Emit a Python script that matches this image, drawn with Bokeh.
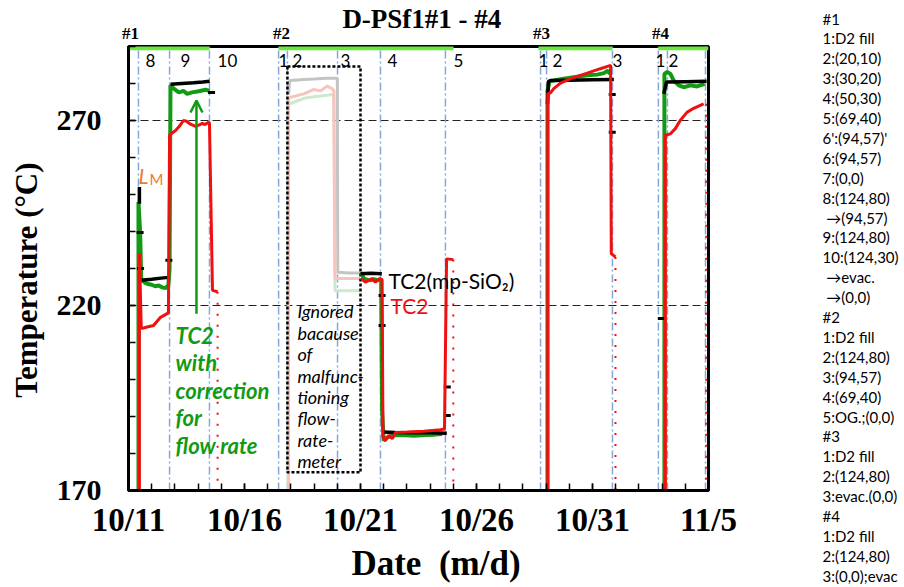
from bokeh.plotting import figure
from bokeh.layouts import row, column
from bokeh.models import FixedTicker, Label, Arrow, OpenHead, Span, Range1d, LinearAxis
from bokeh.embed import file_html
from bokeh.resources import INLINE

nan = float("nan")
NB = "\u00a0"

# x values: day counted from 1 October (10/11 = 11, 11/5 = 36)
x_ticks = [11, 16, 21, 26, 31, 36]
x_tick_labels = ["10/11", "10/16", "10/21", "10/26", "10/31", "11/5"]
x_minor = list(range(11, 37))
y_ticks = [170, 220, 270]
y_minor = list(range(170, 291, 10))

# step-change lines (blue dash-dot) and their labels
step_days = [11.43, 12.77, 14.49, 17.47, 17.85, 20.01, 21.86, 24.66,
             28.76, 29.02, 31.86, 33.84, 34.23, 35.87]
step_label_days = [11.73, 13.24, 14.84, 17.47, 18.07, 20.14, 22.16, 25.01,
                   28.67, 29.28, 31.86, 33.72, 34.28]
step_labels = ["8", "9", "10", "1", "2", "3", "4", "5", "1", "2", "3", "1", "2"]

# run periods (green bars at top) and run names
run_start = [11.0, 17.47, 28.67, 33.84]
run_end = [14.49, 25.01, 31.86, 36.0]
run_names = ["#1", "#2", "#3", "#4"]
run_name_days = [11.09, 17.59, 28.80, 33.93]
title_text = "D-PSf1#1 - #4"

# reference lines
ref_temps = [220, 270]

# TC2 (mp-SiO2) - black
black_x = [11.47, 11.47, nan, 11.56, 12.0, 12.4, 12.74, nan,
           12.81, 13.3, 13.8, 14.2, 14.50, nan,
           21.00, 21.45, 21.92, nan,
           21.97, 22.5, 23.2, 24.0, 24.72, nan,
           29.06, 29.10, 29.19, 30.0, 31.0, 31.92, nan,
           34.07, 34.19, 35.0, 35.92]
black_y = [252.0, 247.5, nan, 226.8, 227.1, 227.4, 227.6, nan,
           279.8, 280.0, 280.2, 280.4, 280.6, nan,
           228.6, 228.7, 228.6, nan,
           185.8, 185.7, 185.6, 185.6, 185.5, nan,
           274.5, 280.5, 280.8, 280.9, 281.0, 281.1, nan,
           277.2, 280.4, 280.5, 280.6]
black_pts_x = [11.50, 11.52, 12.74, 14.58, 21.93, 21.93, 24.74, 24.74, 31.85, 31.85, 33.97]
black_pts_y = [239.7, 230.0, 232.2, 277.6, 222.7, 214.6, 198.0, 190.3, 277.0, 266.8, 216.5]

# TC2 with correction for flow rate - green
green_x = [11.43, 11.43, 11.50, 11.55, 11.70, 11.85, 12.00, 12.15, 12.30, 12.45, 12.60, 12.72,
           12.77, 12.81, 12.95, 13.17, 13.38, 13.53, 13.74, 14.03, 14.32, 14.49, nan,
           21.03, 21.14, 21.30, 21.43, 21.57, 21.71, 21.89, 21.93, 22.00, 22.15, 22.40,
           22.80, 23.30, 23.80, 24.20, 24.52, nan,
           29.06, 29.06, 29.15, 29.33, 29.76, 30.19, 30.77, 31.20, 31.49, 31.66, 31.75, nan,
           34.10, 34.10, 34.22, 34.36, 34.50, 34.72, 34.93, 35.22, 35.51, 35.83]
green_y = [170.0, 248.0, 240.0, 227.0, 226.2, 225.8, 225.6, 225.2, 225.4, 224.9, 224.7, 225.5,
           230.0, 279.5, 278.6, 277.6, 278.0, 277.2, 277.6, 277.9, 278.3, 278.0, nan,
           229.0, 227.3, 226.9, 226.8, 227.1, 226.9, 226.8, 191.6, 183.5, 184.3, 184.9,
           185.0, 184.8, 185.0, 185.1, 185.3, nan,
           170.0, 278.0, 280.6, 280.8, 281.3, 281.7, 282.2, 282.4, 282.8, 283.5, 282.6, nan,
           170.0, 282.6, 283.1, 282.6, 280.8, 279.5, 279.0, 279.5, 279.2, 279.9]

# TC2 - red
red_x = [11.47, 11.47, 11.55, 11.60, 11.80, 12.08, 12.38, 12.72,
         12.77, 12.85, 13.03, 13.20, 13.37, 13.50, 13.67, 13.89, 14.05, 14.19, 14.30, 14.45,
         14.49, 14.62, 14.84, nan,
         21.03, 21.21, 21.36, 21.50, 21.64, 21.83, 21.93, 21.97, 22.07, 22.22, 22.37, 22.51,
         23.01, 23.73, 24.45, 24.62, 24.71, 25.00, nan,
         29.07, 29.07, 29.19, 29.33, 29.62, 30.05, 30.77, 31.34, 31.78, 31.81, 31.99, nan,
         34.14, 34.14, 34.36, 34.57, 34.78, 35.07, 35.36, 35.79]
red_y = [170.0, 234.0, 214.0, 213.8, 214.2, 214.6, 216.8, 218.0,
         266.0, 266.5, 267.3, 268.5, 270.0, 269.8, 269.0, 268.4, 268.8, 269.2, 268.9, 269.5,
         269.3, 224.1, 223.7, nan,
         227.3, 226.3, 226.8, 227.3, 226.3, 227.3, 227.0, 184.4, 183.5, 184.9, 184.0, 185.7,
         185.8, 186.0, 186.4, 186.6, 232.6, 232.4, nan,
         170.0, 277.2, 277.5, 278.6, 280.1, 281.3, 282.8, 284.0, 284.9, 234.0, 233.1, nan,
         170.0, 266.0, 266.4, 267.8, 270.0, 272.2, 273.3, 274.5]
# sparse red points after each run (cooling)
red_drop_x = [14.84, 25.00, 31.99, 35.90]
red_drop_top = [223.7, 232.4, 233.1, 274.5]

# ignored part of run #2 (faded)
grey_x = [17.90, 17.94, 17.98, 18.56, 18.99, 19.56, 20.00, 20.02, 20.50, 20.97]
grey_y = [277.0, 280.5, 280.8, 281.1, 281.2, 281.4, 281.4, 229.0, 228.8, 228.8]
pink_x = [17.90, 17.90, 17.98, 18.56, 18.99, 19.28, 19.56, 19.78, 19.85, 19.90, 20.50, 20.97]
pink_y = [170.0, 276.0, 276.3, 277.2, 278.4, 278.0, 279.3, 278.6, 278.0, 227.3, 227.3, 227.3]
lgreen_x = [17.88, 17.88, 17.98, 18.56, 18.99, 19.28, 19.56, 19.78, 19.85, 19.90, 20.50, 20.97]
lgreen_y = [170.0, 274.0, 274.6, 276.0, 276.4, 276.6, 276.8, 277.0, 276.5, 224.0, 224.0, 224.0]
ignored_box_x = [17.85, 21.00]
ignored_box_y = [174.9, 284.6]

ignored_text = ["Ignored", "bacause", "of", "malfunc-", "tioning", "flow-", "rate-", "meter"]
green_text = ["TC2", "with", "correction", "for", "flow rate"]

condition_lines = ["#1", "1:D2 fill", "2:(20,10)", "3:(30,20)", "4:(50,30)", "5:(69,40)",
                   "6':(94,57)'", "6:(94,57)", "7:(0,0)", "8:(124,80)", NB + "\u2192(94,57)",
                   "9:(124,80)", "10:(124,30)", NB + "\u2192evac.", NB + "\u2192(0,0)",
                   "#2", "1:D2 fill", "2:(124,80)", "3:(94,57)", "4:(69,40)", "5:OG.;(0,0)",
                   "#3", "1:D2 fill", "2:(124,80)", "3:evac.(0,0)",
                   "#4", "1:D2 fill", "2:(124,80)", "3:(0,0);evac"]

GREEN = "#139a13"
RED = "#f01010"
BLUE = "#86a8d8"
SERIF = "Liberation Serif"
SANS = "Lato"
MAIN_W = 812


def bare(fig):
    fig.xgrid.visible = False
    fig.ygrid.visible = False
    fig.outline_line_color = None
    fig.background_fill_color = "white"
    fig.border_fill_color = "white"


# ---------------- main chart ----------------
p = figure(width=MAIN_W, height=587, output_backend="svg", toolbar_location=None,
           x_range=Range1d(11, 36), y_range=Range1d(170, 290),
           min_border_left=128, min_border_right=MAIN_W - 708,
           min_border_top=45, min_border_bottom=97)
p.xgrid.visible = False
p.ygrid.visible = False
p.outline_line_color = "black"
p.outline_line_width = 3
p.outline_line_alpha = 1.0

for ax in (p.xaxis[0], p.yaxis[0]):
    ax.axis_line_width = 3
    ax.major_tick_in = 7
    ax.major_tick_out = 0
    ax.minor_tick_in = 7
    ax.minor_tick_out = 0
    ax.major_tick_line_width = 1.5
    ax.minor_tick_line_width = 1.5
    ax.major_label_text_font = SERIF
    ax.major_label_text_font_style = "bold"
    ax.major_label_text_color = "black"
    ax.axis_label_text_font = SERIF
    ax.axis_label_text_font_style = "bold"
    ax.axis_label_text_color = "black"

p.xaxis.ticker = FixedTicker(ticks=x_ticks, minor_ticks=x_minor)
p.xaxis.major_label_overrides = {t: l for t, l in zip(x_ticks, x_tick_labels)}
p.xaxis.major_label_text_font_size = "33px"
p.xaxis.axis_label = NB * 4 + "Date" + NB + " (m/d)"
p.xaxis.axis_label_text_font_size = "35px"
p.xaxis.major_label_standoff = 11
p.xaxis.axis_label_standoff = 3

p.yaxis.ticker = FixedTicker(ticks=y_ticks, minor_ticks=y_minor)
p.yaxis.major_label_text_font_size = "30px"
p.yaxis.axis_label = "Temperature (\u00b0C)" + NB * 3
p.yaxis.axis_label_text_font_size = "31px"
p.yaxis.major_label_standoff = 27
p.yaxis.axis_label_standoff = 10

# top axis: run names as tick labels, chart title as its label
top_axis = LinearAxis(ticker=FixedTicker(ticks=run_name_days, minor_ticks=[]),
                      major_label_overrides={d: s for d, s in zip(run_name_days, run_names)},
                      axis_line_color=None, major_tick_line_color=None,
                      minor_tick_line_color=None,
                      major_label_text_font=SERIF, major_label_text_font_style="bold",
                      major_label_text_font_size="17px", major_label_text_color="black",
                      major_label_standoff=-2,
                      axis_label=NB + title_text, axis_label_text_font=SERIF,
                      axis_label_text_font_style="bold", axis_label_text_font_size="27px",
                      axis_label_text_color="black", axis_label_standoff=-13)
p.add_layout(top_axis, "above")

for t in ref_temps:
    p.add_layout(Span(location=t, dimension="width", line_color="#222222",
                      line_width=1, line_dash="8 4", level="underlay"))
p.segment(x0=step_days, y0=[170] * len(step_days), x1=step_days, y1=[290] * len(step_days),
          line_color=BLUE, line_width=1.5, line_dash="8 3 2 3")

# ignored part (faded) and its box
p.line(grey_x, grey_y, line_color="#c4c4c4", line_width=3)
p.line(lgreen_x, lgreen_y, line_color="#cde9cd", line_width=3)
p.line(pink_x, pink_y, line_color="#f9c4bd", line_width=3)
bx, by = ignored_box_x, ignored_box_y
p.line([bx[0], bx[1], bx[1], bx[0], bx[0]], [by[1], by[1], by[0], by[0], by[1]],
       line_color="black", line_width=2.5, line_dash="3 2")

# data series
p.line(green_x, green_y, line_color=GREEN, line_width=4)
p.line(black_x, black_y, line_color="black", line_width=3.5)
p.scatter(black_pts_x, black_pts_y, marker="dash", size=7, line_color="black", line_width=3)
p.line(red_x, red_y, line_color=RED, line_width=3)
p.segment(x0=red_drop_x, y0=red_drop_top, x1=red_drop_x, y1=[170] * len(red_drop_x),
          line_color=RED, line_width=2, line_dash="2 9")

# run bars at top
p.segment(x0=run_start, y0=[289.6] * 4, x1=run_end, y1=[289.6] * 4,
          line_color="#66e83c", line_width=4.5)

for d, s in zip(step_label_days, step_labels):
    p.add_layout(Label(x=d, y=286.2, text=s, text_font=SANS, text_font_size="17px",
                       text_color="black", text_baseline="alphabetic", text_align="left"))

# L_M
p.add_layout(Label(x=11.43, y=255.1, text="L", text_font=SANS, text_font_style="italic",
                   text_font_size="21px", text_color="#f07a2a", text_baseline="alphabetic"))
p.add_layout(Label(x=11.91, y=254.3, text="M", text_font=SANS,
                   text_font_size="15px", text_color="#f07a2a", text_baseline="alphabetic"))

for i, s in enumerate(green_text):
    p.add_layout(Label(x=13.03, y=211.9 - i * 7.43, text=s, text_font=SANS,
                       text_font_style="bold italic", text_font_size="22px",
                       text_color=GREEN, text_baseline="alphabetic"))
p.add_layout(Arrow(end=OpenHead(size=12, line_color=GREEN, line_width=2.5),
                   x_start=13.93, y_start=217.8, x_end=13.93, y_end=275.4,
                   line_color=GREEN, line_width=2.5))

for i, s in enumerate(ignored_text):
    p.add_layout(Label(x=18.28, y=218.4 - i * 5.78, text=s, text_font=SANS,
                       text_font_style="italic", text_font_size="18px",
                       text_color="black", text_baseline="middle"))

p.add_layout(Label(x=22.21, y=226.8, text="TC2(mp-SiO\u2082)", text_font=SANS,
                   text_font_size="21px", text_color="black", text_baseline="middle"))
p.add_layout(Label(x=22.29, y=220.0, text="TC2", text_font=SANS,
                   text_font_size="21px", text_color=RED, text_baseline="middle"))

# ---------------- condition list ----------------
side = figure(width=904 - MAIN_W, height=587, output_backend="svg", toolbar_location=None,
              x_range=Range1d(MAIN_W, 904), y_range=Range1d(587, 0),
              min_border_left=0, min_border_right=0, min_border_top=0, min_border_bottom=0,
              x_axis_type=None, y_axis_type=None)
bare(side)
for i, s in enumerate(condition_lines):
    side.add_layout(Label(x=822, y=18 + i * 19.9, text=s, text_font=SANS,
                          text_font_size="15px", text_color="black", text_baseline="middle"))

layout = row(column(p, spacing=0), column(side, spacing=0), spacing=0)
open("out.html", "w").write(file_html(layout, INLINE))
